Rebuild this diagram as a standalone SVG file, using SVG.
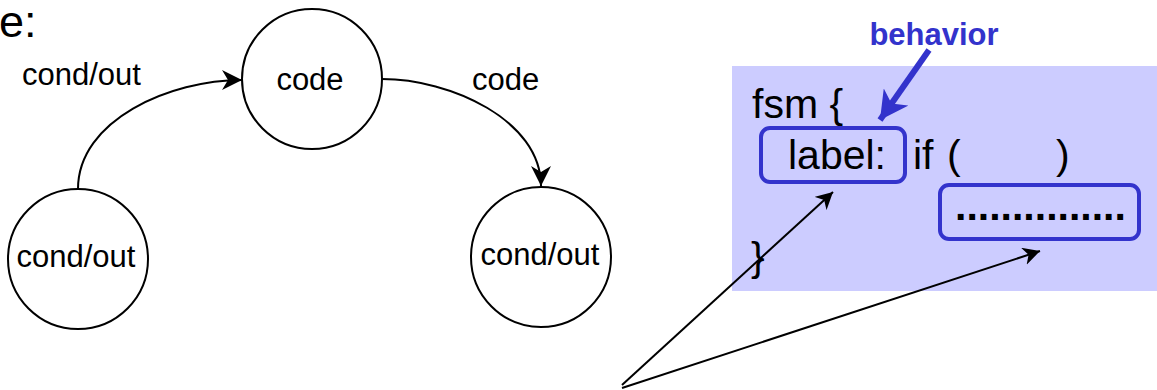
<svg xmlns="http://www.w3.org/2000/svg" width="1157" height="390" viewBox="0 0 1157 390">
  <style>
    .lbl { font-family: "Liberation Sans", Arial, sans-serif; font-size: 31px; fill: #000; }
    .code { font-family: "Liberation Sans", Arial, sans-serif; font-size: 41px; fill: #000; }
    .state { fill: #fff; stroke: #000; stroke-width: 2; }
    .edge { fill: none; stroke: #000; stroke-width: 2; }
    .hl { fill: none; stroke: #3333CC; stroke-width: 4; }
    .mid { text-anchor: middle; }
  </style>
  <defs>
    <marker id="arrowBig" viewBox="-20 -10 20 20" refX="0" refY="0" markerWidth="20" markerHeight="20" markerUnits="userSpaceOnUse" orient="auto">
      <path d="M0,0 L-20,-10 L-14,0 L-20,10 Z" fill="#000"/>
    </marker>
    <marker id="arrowSmall" viewBox="-17 -9 17 18" refX="0" refY="0" markerWidth="17" markerHeight="18" markerUnits="userSpaceOnUse" orient="auto">
      <path d="M0,0 L-17,-9 L-12,0 L-17,9 Z" fill="#000"/>
    </marker>
    <marker id="arrowBlue" viewBox="-28 -15 28 30" refX="0" refY="0" markerWidth="28" markerHeight="30" markerUnits="userSpaceOnUse" orient="auto">
      <path d="M0,0 L-28,-15 L-20,0 L-28,15 Z" fill="#3333CC"/>
    </marker>
  </defs>

  <!-- heading fragment -->
  <text class="lbl" x="-1" y="37" style="font-size:45px">e:</text>

  <!-- code panel -->
  <g id="fsm-panel">
    <rect x="732" y="66" width="425" height="225" fill="#CCCCFF"/>
    <text class="code" x="752" y="118">fsm {</text>
    <text class="code" x="788" y="169">label:</text>
    <text class="code" x="913" y="169">if</text>
    <text class="code" x="947" y="169">(</text>
    <text class="code" x="1056" y="169">)</text>
    <text class="code" x="955" y="220" style="font-weight:bold">...............</text>
    <text class="code" x="751" y="271">}</text>
  </g>
  <g id="label-box">
    <rect class="hl" x="761" y="128" width="144" height="54" rx="9"/>
  </g>
  <g id="body-box">
    <rect class="hl" x="940" y="185" width="199" height="54" rx="9"/>
  </g>
  <g id="behavior">
    <text x="934" y="45" class="mid" style="font-family:'Liberation Sans', Arial, sans-serif; font-size:31px; font-weight:bold; fill:#3333CC">behavior</text>
  </g>

  <!-- states -->
  <g id="state-left">
    <circle class="state" cx="78" cy="259" r="70"/>
    <text class="lbl mid" x="76" y="267">cond/out</text>
  </g>
  <g id="state-code">
    <circle class="state" cx="312" cy="79" r="70"/>
    <text class="lbl mid" x="310" y="90">code</text>
  </g>
  <g id="state-right">
    <circle class="state" cx="541" cy="257" r="70"/>
    <text class="lbl mid" x="540" y="265">cond/out</text>
  </g>

  <!-- transitions and pointers -->
  <g id="connectors">
    <path class="edge" d="M78,189 C78,120 170,80 242,80" marker-end="url(#arrowBig)"/>
    <path class="edge" d="M382,79 C450,79 541,120 541,186" marker-end="url(#arrowBig)"/>
    <text class="lbl" x="22" y="85">cond/out</text>
    <text class="lbl" x="472" y="90">code</text>
    <line x1="929" y1="50" x2="880" y2="120" stroke="#3333CC" stroke-width="6" marker-end="url(#arrowBlue)"/>
    <line class="edge" x1="622" y1="385" x2="833" y2="192" marker-end="url(#arrowSmall)"/>
    <line class="edge" x1="622" y1="388" x2="1040" y2="251" marker-end="url(#arrowSmall)"/>
  </g>
</svg>
